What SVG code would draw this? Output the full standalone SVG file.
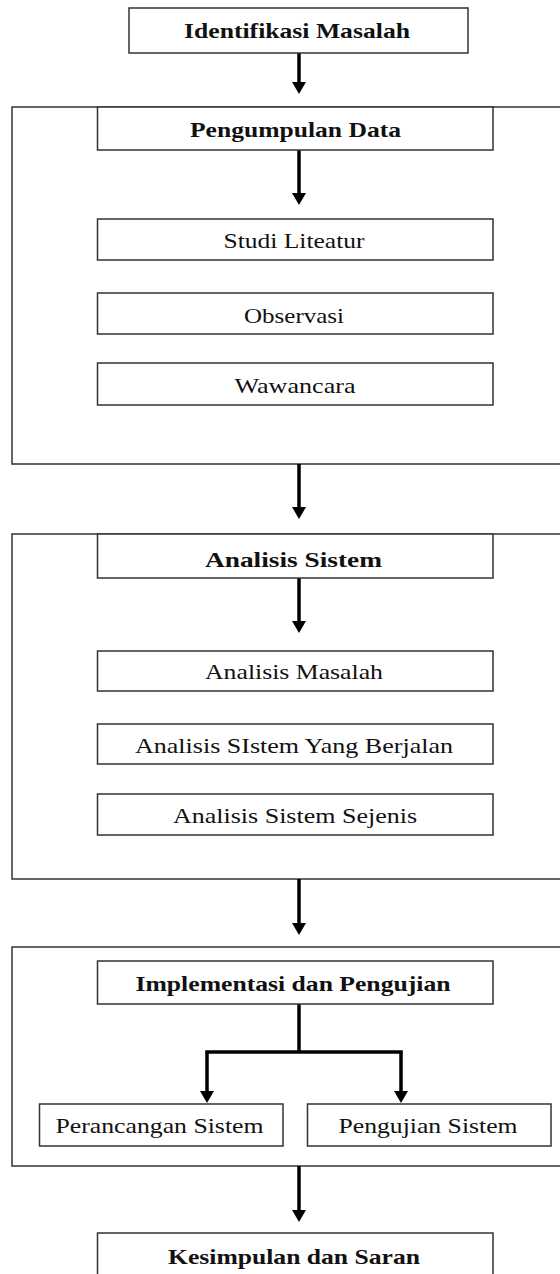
<svg xmlns="http://www.w3.org/2000/svg" width="560" height="1274" viewBox="0 0 560 1274">
<style>
.box{fill:#fff;stroke:#333;stroke-width:1.5}
.outer{fill:none;stroke:#333;stroke-width:1.5}
.t{font-family:"Liberation Serif","Times New Roman",serif;font-size:22px;fill:#111}
.b{font-weight:bold}
.c{fill:none;stroke:#000;stroke-width:3.5}
</style>
<defs>
<marker id="ah" viewBox="0 0 12 14" refX="0" refY="7" markerWidth="12" markerHeight="14" markerUnits="userSpaceOnUse" orient="auto">
<path d="M0,0 L12,7 L0,14 z" fill="#000"/>
</marker>
</defs>
<rect width="560" height="1274" fill="#fff"/>
<g id="group-pengumpulan"><rect class="outer" x="12" y="107" width="570" height="357"/></g>
<g id="group-analisis"><rect class="outer" x="12" y="534" width="570" height="345"/></g>
<g id="group-implementasi"><rect class="outer" x="12" y="947" width="570" height="219"/></g>

<g id="connectors">
<path class="c" d="M299,53 V82" marker-end="url(#ah)"/>
<path class="c" d="M299,150 V193" marker-end="url(#ah)"/>
<path class="c" d="M299,464 V507" marker-end="url(#ah)"/>
<path class="c" d="M299,578 V621" marker-end="url(#ah)"/>
<path class="c" d="M299,879 V923" marker-end="url(#ah)"/>
<path class="c" d="M299,1004 V1052"/>
<path class="c" d="M205.25,1052 H402.75"/>
<path class="c" d="M207,1052 V1091" marker-end="url(#ah)"/>
<path class="c" d="M401,1052 V1091" marker-end="url(#ah)"/>
<path class="c" d="M299,1166 V1210" marker-end="url(#ah)"/>
</g>

<g id="n-identifikasi"><rect class="box" x="129" y="8" width="339" height="45"/>
<text class="t b" x="184" y="37.5" textLength="226" lengthAdjust="spacingAndGlyphs">Identifikasi Masalah</text></g>
<g id="n-pengumpulan"><rect class="box" x="97.5" y="107" width="395.5" height="43"/>
<text class="t b" x="190" y="136.5" textLength="211" lengthAdjust="spacingAndGlyphs">Pengumpulan Data</text></g>
<g id="n-studi"><rect class="box" x="97.5" y="219" width="395.5" height="41"/>
<text class="t" x="223.5" y="248" textLength="141" lengthAdjust="spacingAndGlyphs">Studi Liteatur</text></g>
<g id="n-observasi"><rect class="box" x="97.5" y="293" width="395.5" height="41"/>
<text class="t" x="244" y="322.5" textLength="100" lengthAdjust="spacingAndGlyphs">Observasi</text></g>
<g id="n-wawancara"><rect class="box" x="97.5" y="363" width="395.5" height="42"/>
<text class="t" x="234.5" y="392.5" textLength="121" lengthAdjust="spacingAndGlyphs">Wawancara</text></g>

<g id="n-analisis-sistem"><rect class="box" x="97.5" y="534" width="395.5" height="44"/>
<text class="t b" x="205" y="567" textLength="177" lengthAdjust="spacingAndGlyphs">Analisis Sistem</text></g>
<g id="n-analisis-masalah"><rect class="box" x="97.5" y="651" width="395.5" height="40"/>
<text class="t" x="205" y="679" textLength="178" lengthAdjust="spacingAndGlyphs">Analisis Masalah</text></g>
<g id="n-analisis-berjalan"><rect class="box" x="97.5" y="724" width="395.5" height="40"/>
<text class="t" x="135" y="752.5" textLength="318" lengthAdjust="spacingAndGlyphs">Analisis SIstem Yang Berjalan</text></g>
<g id="n-analisis-sejenis"><rect class="box" x="97.5" y="794" width="395.5" height="41"/>
<text class="t" x="173" y="823" textLength="244" lengthAdjust="spacingAndGlyphs">Analisis Sistem Sejenis</text></g>

<g id="n-implementasi"><rect class="box" x="97.5" y="961" width="395.5" height="43"/>
<text class="t b" x="135.5" y="990.5" textLength="315" lengthAdjust="spacingAndGlyphs">Implementasi dan Pengujian</text></g>
<g id="n-perancangan"><rect class="box" x="39.5" y="1104" width="243.5" height="42"/>
<text class="t" x="55.5" y="1132.5" textLength="208" lengthAdjust="spacingAndGlyphs">Perancangan Sistem</text></g>
<g id="n-pengujian"><rect class="box" x="307.5" y="1104" width="243.5" height="42"/>
<text class="t" x="338.5" y="1132.5" textLength="179" lengthAdjust="spacingAndGlyphs">Pengujian Sistem</text></g>

<g id="n-kesimpulan"><rect class="box" x="97.5" y="1233" width="395.5" height="60"/>
<text class="t b" x="168" y="1264" textLength="252" lengthAdjust="spacingAndGlyphs">Kesimpulan dan Saran</text></g>
</svg>
